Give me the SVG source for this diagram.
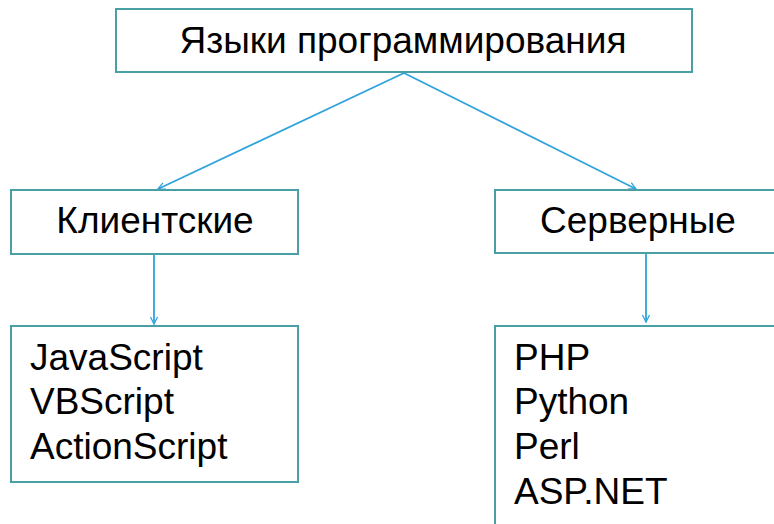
<svg xmlns="http://www.w3.org/2000/svg" width="774" height="524" viewBox="0 0 774 524">
<style>
.box{fill:#ffffff;stroke:#4a9fa5;stroke-width:2}
.t{font-family:"Liberation Sans",Arial,sans-serif;font-size:37px;fill:#000000}
.c{text-anchor:middle}
.edge{stroke:#2fa3dc;stroke-width:1.8;fill:none;marker-end:url(#ah)}
</style>
<defs>
<marker id="ah" viewBox="0 0 10 10" refX="10" refY="5" markerWidth="7" markerHeight="7" orient="auto" markerUnits="userSpaceOnUse" overflow="visible">
<path d="M0,0 L10,5 L0,10" fill="none" stroke="#2fa3dc" stroke-width="1.8"/>
</marker>
</defs>
<rect width="774" height="524" fill="#ffffff"/>
<g id="connectors">
<line class="edge" x1="404" y1="73" x2="158" y2="189"/>
<line class="edge" x1="404" y1="73" x2="636" y2="189"/>
<line class="edge" x1="154" y1="254" x2="154" y2="324"/>
<line class="edge" x1="646" y1="253" x2="646" y2="322"/>
</g>
<g id="root">
<rect class="box" x="116" y="9" width="576" height="63"/>
<text class="t c" x="403" y="53">Языки программирования</text>
</g>
<g id="client">
<rect class="box" x="11" y="190" width="287" height="64"/>
<text class="t c" x="155" y="233">Клиентские</text>
</g>
<g id="server">
<rect class="box" x="495" y="190" width="290" height="63"/>
<text class="t c" x="638" y="233">Серверные</text>
</g>
<g id="client-list">
<rect class="box" x="11" y="326" width="287" height="156"/>
<text class="t" x="30" y="370">JavaScript</text>
<text class="t" x="30" y="414">VBScript</text>
<text class="t" x="30" y="459">ActionScript</text>
</g>
<g id="server-list">
<rect class="box" x="495" y="326" width="290" height="210"/>
<text class="t" x="514" y="370">PHP</text>
<text class="t" x="514" y="414">Python</text>
<text class="t" x="514" y="459">Perl</text>
<text class="t" x="514" y="504">ASP.NET</text>
</g>
</svg>
